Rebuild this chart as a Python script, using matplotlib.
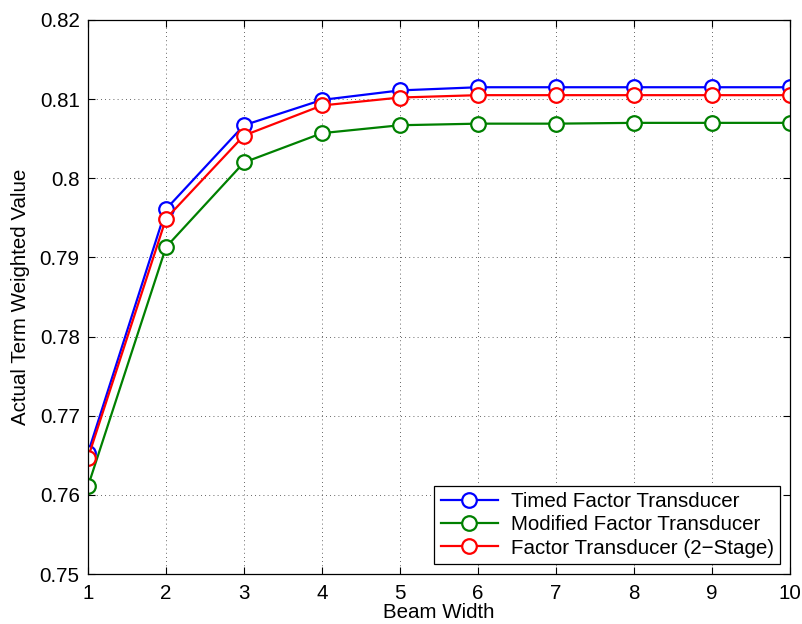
#!/usr/bin/env python3
# -*- coding: utf-8 -*-

"""Beam width vs actual term weighted value."""

import matplotlib
matplotlib.use("Agg")
import matplotlib.pyplot as plt

BEAM_WIDTH = [1, 2, 3, 4, 5, 6, 7, 8, 9, 10]
TIMED = [0.7653, 0.7961, 0.8067, 0.8099, 0.8111, 0.8115, 0.8115, 0.8115, 0.8115, 0.8115]
MODIFIED = [0.7611, 0.7913, 0.8020, 0.8057, 0.8067, 0.8069, 0.8069, 0.8070, 0.8070, 0.8070]
TWO_STAGE = [0.7647, 0.7949, 0.8054, 0.8092, 0.8102, 0.8105, 0.8105, 0.8105, 0.8105, 0.8105]
Y_TICKS = [0.75, 0.76, 0.77, 0.78, 0.79, 0.80, 0.81, 0.82]
Y_LABELS = ["0.75", "0.76", "0.77", "0.78", "0.79", "0.8", "0.81", "0.82"]

plt.rcParams["font.family"] = ["Liberation Sans", "DejaVu Sans"]
plt.rcParams["font.size"] = 14.8


def main():
    """Draw and save."""
    fig = plt.figure(figsize=(8.03, 6.24), dpi=100)
    ax = fig.add_axes([0.1096, 0.0801, 0.8742, 0.8879])
    style = dict(linewidth=1.6, marker="o", markersize=10.5,
                 markerfacecolor="white", markeredgewidth=1.6)
    ax.plot(BEAM_WIDTH, TIMED, color="#0000ff",
            label="Timed Factor Transducer", **style)
    ax.plot(BEAM_WIDTH, MODIFIED, color="#008000",
            label="Modified Factor Transducer", **style)
    ax.plot(BEAM_WIDTH, TWO_STAGE, color="#ff0000",
            label="Factor Transducer (2\u2212Stage)", **style)
    ax.set_xlim(1, 10)
    ax.set_ylim(0.75, 0.82)
    ax.set_xticks(BEAM_WIDTH)
    ax.set_yticks(Y_TICKS)
    ax.set_yticklabels(Y_LABELS)
    ax.tick_params(direction="in", top=True, right=True, length=5,
                   width=0.8)
    ax.tick_params(axis="x", pad=7)
    ax.tick_params(axis="y", pad=6)
    ax.grid(True, linestyle=(0, (1, 4)), color="black", linewidth=0.6,
            alpha=0.8)
    for spine in ax.spines.values():
        spine.set_linewidth(0.9)
    ax.set_xlabel("Beam Width", labelpad=0)
    ax.set_ylabel("Actual Term Weighted Value", labelpad=7)
    leg = ax.legend(loc="lower right", fancybox=False, framealpha=1,
                    edgecolor="black", borderaxespad=0.5, handlelength=2.8,
                    labelspacing=0.2, borderpad=0.3, handletextpad=0.6)
    leg.get_frame().set_linewidth(0.9)
    fig.savefig("out.png", dpi=100)


if __name__ == "__main__":
    main()
